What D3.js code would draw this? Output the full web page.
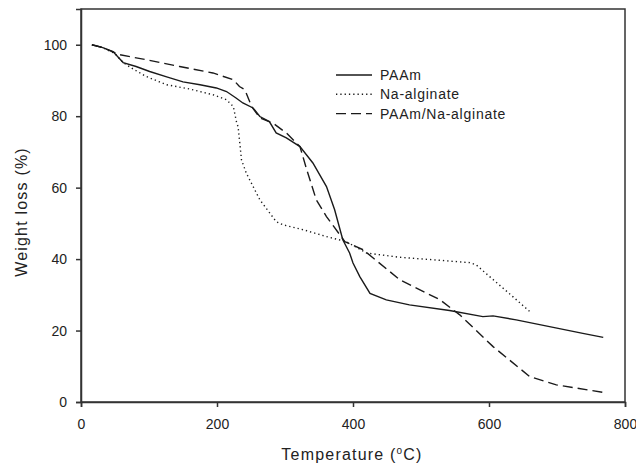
<!DOCTYPE html>
<html>
<head>
<meta charset="utf-8">
<script src="https://cdn.jsdelivr.net/npm/d3@7"></script>
<style>
  body { margin: 0; background: #fff; }
  text { font-family: "Liberation Sans", Arial, sans-serif; fill: #222; }
</style>
</head>
<body>
<svg width="636" height="465"></svg>
<script>
// temperature (C) / weight (%)
const paamT = [16, 32, 47, 62, 81, 101, 126, 150, 175, 199, 214, 228, 238, 253, 263, 277, 287, 302, 322, 341, 361, 373, 385, 395, 400, 410, 425, 449, 483, 542, 591, 606, 640, 689, 738, 768];
const paamW = [100, 99.2, 98.1, 95, 93.9, 92.5, 91, 89.6, 88.8, 87.9, 86.9, 85.1, 83.7, 82.3, 79.9, 78.5, 75.3, 73.9, 71.5, 66.9, 60.3, 53.8, 45.4, 41.7, 38.9, 35.1, 30.4, 28.6, 27.2, 25.6, 23.9, 24.1, 23, 21.1, 19.2, 18.1];

const algT = [16, 32, 50, 62, 74, 96, 126, 160, 194, 214, 224, 229, 231, 233, 236, 243, 263, 287, 297, 327, 361, 390, 420, 469, 518, 572, 581, 601, 635, 660];
const algW = [100, 99.2, 97.5, 95, 93.5, 91.1, 88.8, 87.6, 86, 84.6, 82.7, 78.1, 77.1, 73.4, 67.8, 64.1, 56.6, 50.5, 49.6, 48.2, 46.3, 44.9, 41.7, 40.5, 39.8, 39, 38.4, 35.1, 29.5, 25.3];

const blendT = [16, 32, 57, 96, 145, 194, 224, 233, 241, 251, 263, 282, 302, 322, 332, 346, 361, 388, 415, 469, 528, 557, 606, 660, 699, 768];
const blendW = [100, 99.2, 97.2, 95.8, 93.9, 92.1, 90.2, 88.3, 87.4, 82.7, 79.5, 78.1, 75.3, 71.5, 65, 56.6, 51.9, 44.9, 42.6, 34.2, 28.6, 24.4, 15.5, 7.1, 4.8, 2.7];

const seriesNames = ['PAAm', 'Na-alginate', 'PAAm/Na-alginate'];
const xTicks = [0, 200, 400, 600, 800];
const yTicks = [0, 20, 40, 60, 80, 100];

const svg = d3.select('svg');
const mLeft = 81, mRight = 625, mTop = 9, mBottom = 402;

const x = d3.scaleLinear().domain([0, 800]).range([mLeft, mRight]);
const y = d3.scaleLinear().domain([0, 110]).range([mBottom, mTop]);

const axisColor = '#333';

// frame
svg.append('rect')
    .attr('x', mLeft).attr('y', mTop)
    .attr('width', mRight - mLeft).attr('height', mBottom - mTop)
    .attr('fill', 'none').attr('stroke', axisColor).attr('stroke-width', 1.5);

const xAxis = svg.append('g')
    .attr('transform', `translate(0,${mBottom})`)
    .call(d3.axisBottom(x).tickValues(xTicks).tickSize(5).tickPadding(12));
const yAxis = svg.append('g')
    .attr('transform', `translate(${mLeft},0)`)
    .call(d3.axisLeft(y).tickValues(yTicks).tickSize(5).tickPadding(9));

[xAxis, yAxis].forEach(a => {
    a.select('.domain').attr('stroke', axisColor).attr('stroke-width', 1.5);
    a.selectAll('.tick line').attr('stroke', axisColor).attr('stroke-width', 1.5);
    a.selectAll('.tick text')
        .style('font-family', '"Liberation Sans", Arial, sans-serif')
        .style('font-size', '14px').attr('fill', '#222');
});

// curves
const series = [
    { name: seriesNames[0], t: paamT, w: paamW, dash: null },
    { name: seriesNames[1], t: algT, w: algW, dash: '1.3,3' },
    { name: seriesNames[2], t: blendT, w: blendW, dash: '10,5' }
];

const line = d3.line().x(d => x(d[0])).y(d => y(d[1]));

series.forEach(s => {
    svg.append('path')
        .datum(s.t.map((t, i) => [t, s.w[i]]))
        .attr('d', line)
        .attr('fill', 'none')
        .attr('stroke', '#1a1a1a')
        .attr('stroke-width', 1.4)
        .attr('stroke-dasharray', s.dash);
});

// legend
const legend = svg.append('g').attr('transform', 'translate(336,75)');
series.forEach((s, i) => {
    const g = legend.append('g').attr('transform', `translate(0,${i * 19.3})`);
    g.append('line')
        .attr('x1', 0).attr('x2', 36)
        .attr('stroke', '#1a1a1a').attr('stroke-width', 1.4)
        .attr('stroke-dasharray', s.dash);
    g.append('text')
        .attr('x', 44).attr('dy', '0.35em')
        .style('font-size', '14px').style('letter-spacing', '0.75px')
        .text(s.name);
});

// axis titles
const xt = svg.append('text')
    .attr('x', 352).attr('y', 460)
    .attr('text-anchor', 'middle')
    .style('font-size', '16px').style('letter-spacing', '1.2px');
xt.append('tspan').text('Temperature (');
xt.append('tspan').attr('dy', -6).style('font-size', '10px').text('o');
xt.append('tspan').attr('dy', 6).text('C)');

svg.append('text')
    .attr('transform', 'translate(27,212) rotate(-90)')
    .attr('text-anchor', 'middle')
    .style('font-size', '16px').style('letter-spacing', '1.2px')
    .text('Weight loss (%)');
</script>
</body>
</html>
